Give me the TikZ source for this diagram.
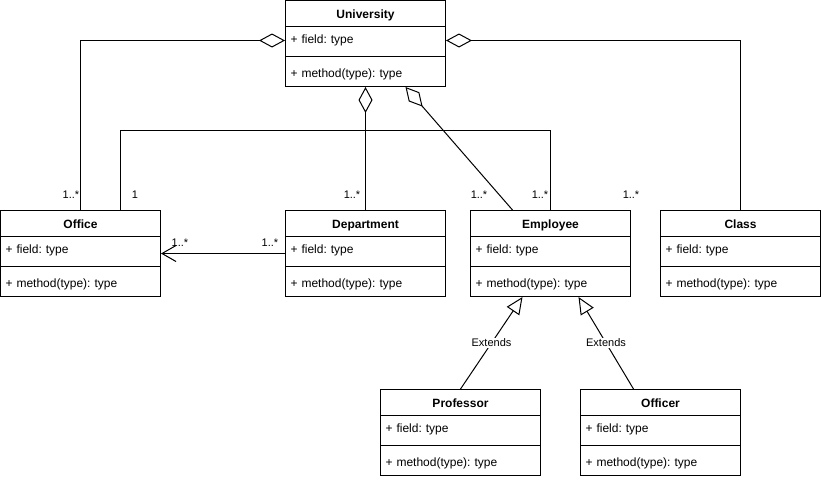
\documentclass[tikz,border=0pt]{standalone}
\usepackage{fontspec}
\setmainfont{Liberation Sans}
\usetikzlibrary{arrows.meta}
\frenchspacing

\begin{document}
\begin{tikzpicture}[x=1pt, y=-1pt, line width=1pt,
        classbox/.style={draw, minimum width=160pt, minimum height=86pt,
                         anchor=north west, inner sep=0pt},
        classhead/.style={minimum width=160pt, minimum height=26pt, anchor=north,
                          inner sep=0pt, text height=8.6pt, text depth=2.5pt,
                          font=\fontsize{12}{14}\selectfont\bfseries},
        classrow/.style={text width=150pt, inner xsep=5pt, inner ysep=0pt,
                         minimum height=26pt, anchor=north west, align=left,
                         font=\fontsize{12}{14}\selectfont},
        mult/.style={inner sep=0pt, font=\fontsize{11}{13}\selectfont},
        agg/.style={{Diamond[open, length=26pt, width=14pt]}-},
        assoc/.style={-{Straight Barb[length=14pt, width=16pt]}},
        ext/.style={-{Triangle[open, length=17pt, width=15pt]}},
        extlabel/.style={fill=white, inner sep=1pt, font=\fontsize{11}{13}\selectfont}
    ]
    \useasboundingbox (0,0) rectangle (821,479);

    % classes
    \foreach \n/\t/\x/\y in {uni/University/285/0, office/Office/0/210,
                             dept/Department/285/210, emp/Employee/470/210,
                             cls/Class/660/210, prof/Professor/380/389,
                             off/Officer/580/389} {
        \node[classbox] (\n) at (\x,\y) {};
        \node[classhead] (\n-t) at ([yshift=-2pt]\n.north) {\t};
        \node[classrow] (\n-f) at ([yshift=-27pt]\n.north west) {+ field: type};
        \node[classrow] (\n-m) at ([yshift=-61pt]\n.north west) {+ method(type): type};
        \draw ([yshift=-26pt]\n.north west) -- ([yshift=-26pt]\n.north east);
        \draw ([yshift=-56pt]\n.north west) -- ([yshift=-56pt]\n.north east);
    }

    % aggregations
    \draw[agg] (uni-f.west) -| (office.north);
    \draw[agg] (uni.south) -- (dept.north);
    \draw[agg] ([xshift=40pt]uni.south) -- ([xshift=-38pt]emp.north);
    \draw[agg] (uni-f.east) -| (cls.north);

    % associations
    \draw ([xshift=40pt]office.north) -- ++(0,-80) -| (emp.north);
    \draw[assoc] ([yshift=-3pt]dept-f.west) -- ([yshift=-3pt]office-f.east);

    % inheritance
    \draw[ext] (prof.north) -- ([xshift=-28pt]emp.south)
        node[midway, extlabel] {Extends};
    \draw[ext] ([xshift=-27pt]off.north) -- ([xshift=28pt]emp.south)
        node[midway, extlabel] {Extends};

    % multiplicities
    \node[mult] (m1) at (71,195) {1..*};
    \node[mult] (m2) at (135,195) {1};
    \node[mult] (m3) at (352,195) {1..*};
    \node[mult] (m4) at (479,195) {1..*};
    \node[mult] (m5) at (540,195) {1..*};
    \node[mult] (m6) at (631,195) {1..*};
    \node[mult] (m7) at (180,243) {1..*};
    \node[mult] (m8) at (270,243) {1..*};
\end{tikzpicture}
\end{document}
